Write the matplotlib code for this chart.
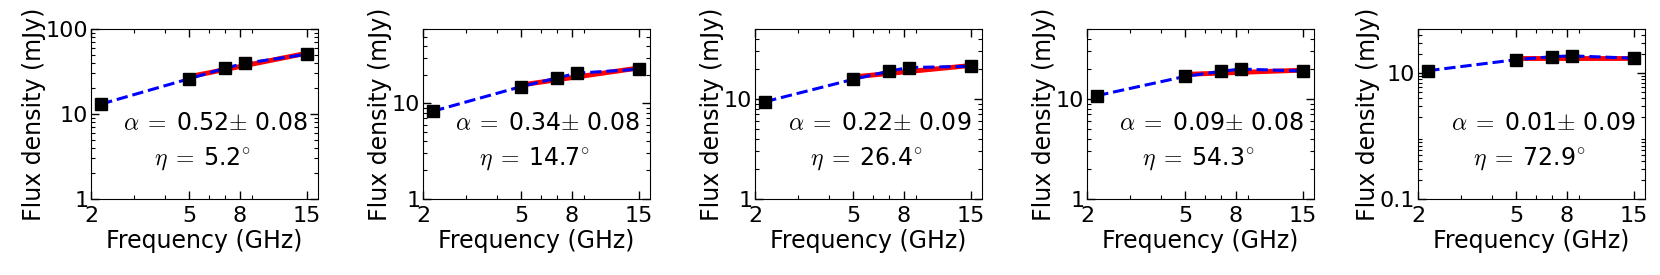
import numpy as np
import matplotlib
matplotlib.use('Agg')
import matplotlib.pyplot as plt
from matplotlib.ticker import FixedLocator, FixedFormatter, LogLocator, NullFormatter

plt.rcParams['font.family'] = ['DejaVu Sans']
plt.rcParams['mathtext.fontset'] = 'cm'

# observing frequencies (GHz)
freq = [2.2, 5.0, 7.0, 8.4, 15.0]

# flux densities (mJy), one list per source
flux_a = [13.1, 26.0, 34.7, 39.5, 50.5]
flux_b = [8.3, 15.0, 18.5, 20.7, 22.8]
flux_c = [9.4, 15.7, 19.0, 20.6, 21.2]
flux_d = [10.8, 16.8, 18.9, 19.9, 19.0]
flux_e = [10.9, 16.3, 18.2, 18.7, 17.2]

# power-law fit between 5 and 15 GHz (flux at the two ends)
fit_freq = [5.0, 15.0]
fit_a = [27.5, 52.0]
fit_b = [15.6, 23.5]
fit_c = [16.6, 21.6]
fit_d = [17.6, 19.4]
fit_e = [17.6, 17.6]

alpha = ['0.52', '0.34', '0.22', '0.09', '0.01']
alpha_err = ['0.08', '0.08', '0.09', '0.08', '0.09']
eta = ['5.2', '14.7', '26.4', '54.3', '72.9']

ylims = [(1, 100), (1, 60), (1, 50), (1, 50), (0.1, 50)]
yticks = [[1, 10, 100], [1, 10], [1, 10], [1, 10], [0.1, 10]]
ylabels = [['1', '10', '100'], ['1', '10'], ['1', '10'], ['1', '10'], ['0.1', '10']]

fluxes = [flux_a, flux_b, flux_c, flux_d, flux_e]
fits = [fit_a, fit_b, fit_c, fit_d, fit_e]

fig = plt.figure(figsize=(16.6, 2.75), dpi=100)
lefts = [91, 423, 755, 1087, 1418]

for i in range(5):
    ax = fig.add_axes([lefts[i] / 1660, 76 / 275, 227 / 1660, 170 / 275])
    ax.plot(fit_freq, fits[i], color='red', lw=3.5, zorder=2)
    ax.plot(freq, fluxes[i], 'b--', lw=2.2, zorder=3)
    ax.plot(freq, fluxes[i], 's', color='black', ms=9, zorder=4)
    ax.set_xscale('log')
    ax.set_yscale('log')
    ax.set_xlim(2, 16.6)
    ax.set_ylim(*ylims[i])

    ax.xaxis.set_major_locator(FixedLocator([2, 5, 8, 15]))
    ax.xaxis.set_major_formatter(FixedFormatter(['2', '5', '8', '15']))
    ax.xaxis.set_minor_locator(LogLocator(subs=np.arange(2, 10)))
    ax.xaxis.set_minor_formatter(NullFormatter())
    ax.yaxis.set_major_locator(FixedLocator(yticks[i]))
    ax.yaxis.set_major_formatter(FixedFormatter(ylabels[i]))
    ax.yaxis.set_minor_locator(LogLocator(subs=np.arange(2, 10)))
    ax.yaxis.set_minor_formatter(NullFormatter())

    ax.tick_params(which='both', direction='in', top=True, right=True, labelsize=16)
    ax.tick_params(which='major', length=6, width=1)
    ax.tick_params(which='minor', length=3, width=0.8)
    ax.tick_params(axis='x', pad=5)
    ax.tick_params(axis='y', pad=2)

    ax.set_xlabel('Frequency (GHz)', fontsize=17, labelpad=2)
    ax.set_ylabel('Flux density (mJy)', fontsize=17, labelpad=0)

    ax.text(0.55, 0.45, r'$\alpha\;=\;$' + alpha[i] + r'$\pm$ ' + alpha_err[i],
            transform=ax.transAxes, ha='center', va='center', fontsize=17)
    ax.text(0.49, 0.24, r'$\eta\;=\;$' + eta[i] + r'$^{\circ}$',
            transform=ax.transAxes, ha='center', va='center', fontsize=17)

plt.savefig('out.png', dpi=100)
